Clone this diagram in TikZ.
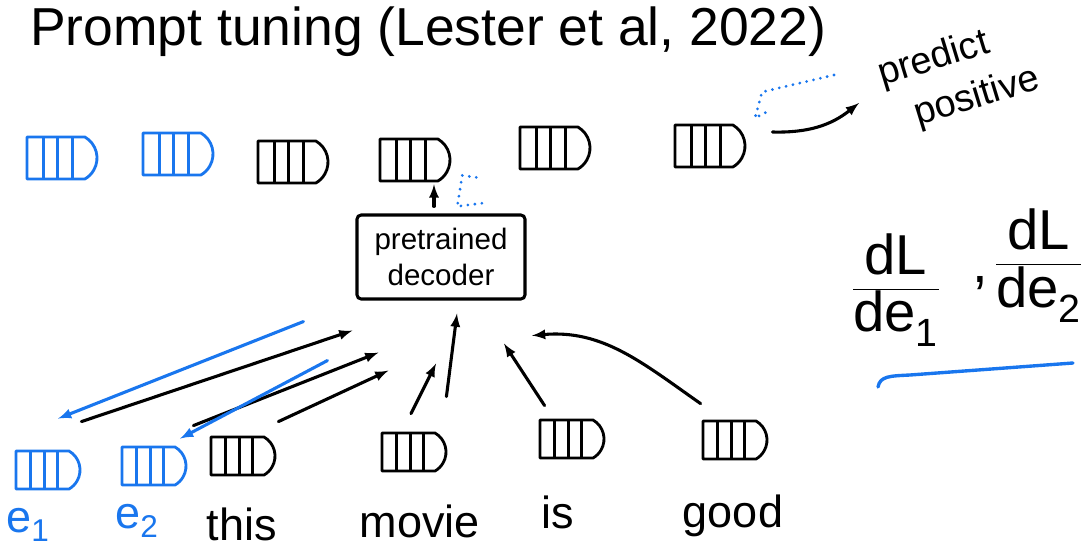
\documentclass[tikz,border=0pt]{standalone}
\usepackage{fontspec}
\setmainfont{Liberation Sans}
\usetikzlibrary{calc,shapes.misc}
\definecolor{handblue}{RGB}{25,118,238}
\tikzset{
  emb/.style={draw, rounded rectangle, rounded rectangle left arc=none,
    rounded rectangle arc length=120,
    line width=2pt, inner sep=0pt, minimum width=1.6cm, minimum height=0.95cm,
    path picture={\foreach \f in {0.22,0.42,0.62}
      \draw[line width=2pt]
        ($(path picture bounding box.south west)!\f!(path picture bounding box.south east)$) --
        ($(path picture bounding box.north west)!\f!(path picture bounding box.north east)$);}},
  bigemb/.style={emb, minimum width=1.75cm, minimum height=1.05cm},
  word/.style={font=\fontsize{32}{36}\selectfont, anchor=base, inner sep=0pt},
  gradline/.style={handblue, line width=2.2pt},
  graddots/.style={handblue, line width=2.2pt, line cap=round, dash pattern=on 0pt off 5pt},
}
\begin{document}
\begin{tikzpicture}[x=0.025cm, y=-0.025cm, line cap=round, line join=round]
  \useasboundingbox (0,0) rectangle (1081,554);
  \node[anchor=base west, inner sep=0pt, font=\fontsize{38}{42}\selectfont] (title) at (30,45)
    {Prompt tuning (Lester et al, 2022)};

  \node[bigemb, handblue] (out1) at (62,158) {};
  \node[bigemb, handblue] (out2) at (178,154) {};
  \node[bigemb] (out3) at (293,162) {};
  \node[bigemb] (out4) at (415,160) {};
  \node[bigemb] (out5) at (555,148) {};
  \node[bigemb] (out6) at (710,146) {};

  \node[draw, line width=2.2pt, rounded corners=3pt, minimum width=4.2cm, minimum height=2.1cm,
    align=center, font=\fontsize{21}{25}\selectfont] (dec) at (441,257) {pretrained\\decoder};

  \node[emb, handblue] (e1) at (48,470) {};
  \node[emb, handblue] (e2) at (154,466) {};
  \node[emb] (this) at (243,456) {};
  \node[emb] (movie) at (414,452) {};
  \node[emb] (is) at (572,439) {};
  \node[emb] (good) at (735,440) {};

  \node[word, handblue] (le1) at (28,532) {e\textsubscript{1}};
  \node[word, handblue] (le2) at (137,528) {e\textsubscript{2}};
  \node[word] (lthis) at (242,540) {this};
  \node[word] (lmovie) at (420,537) {movie};
  \node[word] (lis) at (558,528) {is};
  \node[word] (lgood) at (733,527) {good};

  \node[rotate=17, anchor=base west, inner sep=0pt, font=\fontsize{27}{30}\selectfont] (pred1) at (882,86) {predict};
  \node[rotate=17, anchor=base west, inner sep=0pt, font=\fontsize{27}{30}\selectfont] (pred2) at (918,126) {positive};

  \node[font=\fontsize{40}{44}\selectfont] (frac1) at (896,290)
    {$\displaystyle\frac{\mathrm{dL}}{\mathrm{de}_\mathrm{1}}$};
  \node[anchor=base, inner sep=0pt, font=\fontsize{40}{44}\selectfont] (comma) at (980,282) {,};
  \node[font=\fontsize{40}{44}\selectfont] (frac2) at (1039,266)
    {$\displaystyle\frac{\mathrm{dL}}{\mathrm{de}_\mathrm{2}}$};
  \draw[gradline, line width=2.4pt] (878,387) .. controls (880,376) and (890,376) .. (910,375) -- (1073,363);

  \begin{scope}[-latex, line width=2.2pt]
    \draw ([shift={(12,-28)}]e1.north east) -- ([shift={(-3,30)}]dec.south west);
    \draw ([shift={(18,-20)}]e2.north east) -- ([shift={(23,52)}]dec.south west);
    \draw ([shift={(14,-14)}]this.north east) -- ([shift={(33,70)}]dec.south west);
    \draw ([shift={(-3,-18)}]movie.north) -- ([shift={(-5,63)}]dec.south);
    \draw ([shift={(11,-35)}]movie.north east) -- ([shift={(16,13)}]dec.south);
    \draw ([shift={(6,-13)}]is.north west) -- ([shift={(63,43)}]dec.south);
    \draw ([shift={(-1,-16)}]good.north west) to[out=145, in=5] ([shift={(91,35)}]dec.south);
    \draw ([shift={(-7,-7)}]dec.north) -- ([shift={(19,2)}]out4.south);
    \draw ([shift={(26,-14)}]out6.east) to[bend right=20] ([shift={(-23,17)}]pred1.base west);
    \draw[gradline] ([shift={(-52,21)}]dec.south west) -- ([shift={(10,-31)}]e1.north);
    \draw[gradline] ([shift={(-28,60)}]dec.south west) -- ([shift={(26,-7)}]e2.north);
  \end{scope}

  \draw[graddots] ([shift={(38,-5)}]out4.south east) -- ++(-14,-2) -- ++(-5,31)
    -- ([shift={(47,-11)}]dec.north);
  \draw[graddots] ([shift={(-48,-11)}]pred1.base west) -- ++(-72,17) -- ++(-7,26)
    -- ([shift={(38,-14)}]out6.north east);
\end{tikzpicture}
\end{document}
